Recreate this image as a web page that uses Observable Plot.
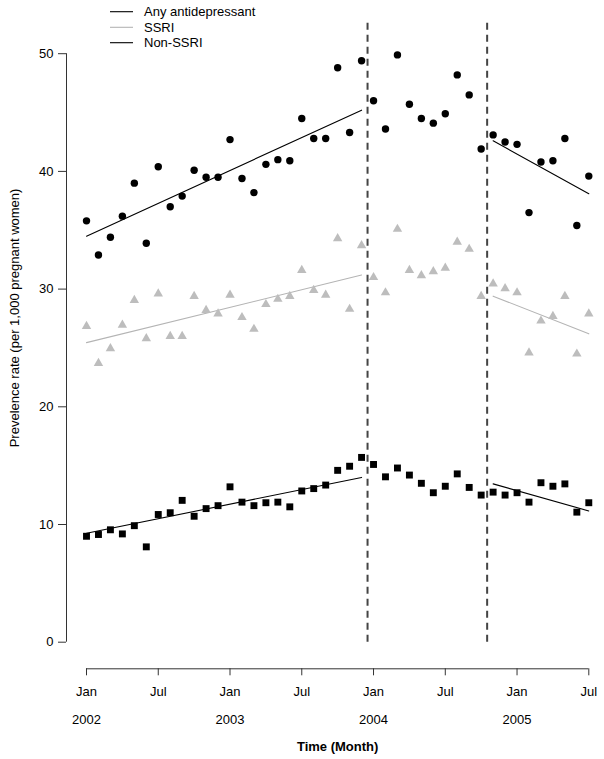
<!DOCTYPE html>
<html>
<head>
<meta charset="utf-8">
<script src="https://cdn.jsdelivr.net/npm/d3@7"></script>
<script src="https://cdn.jsdelivr.net/npm/@observablehq/plot@0.6"></script>
<style>
  html, body { margin: 0; padding: 0; background: white; }
  #wrap { position: relative; width: 604px; height: 759px; font-family: "Liberation Sans", Arial, sans-serif; }
  #legend { position: absolute; left: 0; top: 0; }
</style>
</head>
<body>
<div id="wrap"></div>
<script>
// Month index 0 = Jan 2002 ... 42 = Jul 2005
const anyAD = [35.8, 32.9, 34.4, 36.2, 39.0, 33.9, 40.4, 37.0, 37.9, 40.1,
               39.5, 39.5, 42.7, 39.4, 38.2, 40.6, 41.0, 40.9, 44.5, 42.8,
               42.8, 48.8, 43.3, 49.4, 46.0, 43.6, 49.9, 45.7, 44.5, 44.1,
               44.9, 48.2, 46.5, 41.9, 43.1, 42.5, 42.3, 36.5, 40.8, 40.9,
               42.8, 35.4, 39.6];
const ssri = [26.85, 23.7, 24.95, 26.95, 29.05, 25.8, 29.6, 26.0, 26.0, 29.4,
              28.2, 27.9, 29.5, 27.6, 26.6, 28.7, 29.15, 29.4, 31.6, 29.9,
              29.5, 34.3, 28.3, 33.7, 31.0, 29.7, 35.1, 31.6, 31.15, 31.5,
              31.8, 34.0, 33.4, 29.4, 30.45, 30.05, 29.7, 24.6, 27.3, 27.7,
              29.4, 24.5, 27.9];
const nonSSRI = [9.0, 9.15, 9.55, 9.2, 9.9, 8.1, 10.85, 11.0, 12.05, 10.7,
                 11.35, 11.6, 13.2, 11.9, 11.6, 11.85, 11.9, 11.5, 12.85, 13.05,
                 13.35, 14.6, 14.95, 15.7, 15.1, 14.05, 14.8, 14.2, 13.5, 12.7,
                 13.25, 14.3, 13.15, 12.5, 12.75, 12.5, 12.7, 11.9, 13.55, 13.25,
                 13.45, 11.05, 11.85];

// Fitted trend segments: [start month, end month] and [start value, end value]
const trendSegments = [[0, 23], [34, 42]];
const anyTrend = [[34.5, 45.2], [42.6, 38.1]];
const ssriTrend = [[25.45, 31.2], [29.4, 26.2]];
const nonTrend = [[9.25, 14.0], [13.45, 11.15]];

// Intervention dates (month index)
const interventions = [23.5, 33.5];

// Axis ticks and labels
const xTicks = [0, 6, 12, 18, 24, 30, 36, 42];
const xTickLabels = ["Jan", "Jul", "Jan", "Jul", "Jan", "Jul", "Jan", "Jul"];
const yearTicks = [0, 12, 24, 36];
const yearLabels = ["2002", "2003", "2004", "2005"];
const yTicks = [0, 10, 20, 30, 40, 50];

const seriesNames = ["Any antidepressant", "SSRI", "Non-SSRI"];

// Build tables
const toRows = (arr, name) => arr.map((v, i) => ({month: i, value: v, series: name}));
const anyRows = toRows(anyAD, "Any antidepressant");
const ssriRows = toRows(ssri, "SSRI");
const nonRows = toRows(nonSSRI, "Non-SSRI");

const trendRows = [];
[[anyTrend, "Any antidepressant"], [ssriTrend, "SSRI"], [nonTrend, "Non-SSRI"]].forEach(([t, name]) => {
  t.forEach((vals, s) => {
    trendRows.push({month: trendSegments[s][0], value: vals[0], series: name, key: name + s});
    trendRows.push({month: trendSegments[s][1], value: vals[1], series: name, key: name + s});
  });
});

const lineColor = {"Any antidepressant": "#000", "SSRI": "#b4b4b4", "Non-SSRI": "#000"};
const yearRows = yearTicks.map((m, i) => ({month: m, label: yearLabels[i]}));

const chart = Plot.plot({
  width: 604,
  height: 759,
  marginLeft: 86,
  marginRight: 15.7,
  marginTop: 53.2,
  marginBottom: 117.3,
  x: {domain: [0, 42]},
  y: {domain: [0, 50]},
  style: {fontFamily: "'Liberation Sans', Arial, sans-serif", fontSize: "13px", color: "#000", background: "white"},
  marks: [
    Plot.ruleX(interventions, {x: d => d, y1: 0, y2: 53, stroke: "#444", strokeWidth: 2, strokeDasharray: "7,5"}),
    Plot.line(trendRows, {x: "month", y: "value", z: "key", stroke: d => lineColor[d.series], strokeWidth: 1.1}),
    Plot.dot(ssriRows, {x: "month", y: "value", symbol: "triangle", r: 3.5, fill: "#bdbdbd", stroke: "none"}),
    Plot.dot(anyRows, {x: "month", y: "value", symbol: "circle", r: 3.7, fill: "#000", stroke: "none"}),
    Plot.dot(nonRows, {x: "month", y: "value", symbol: "square", r: 3.9, fill: "#000", stroke: "none"}),
    // y axis (offset left, R style)
    Plot.ruleX([0], {y1: 0, y2: 50, dx: -20, stroke: "#333"}),
    Plot.axisY({ticks: yTicks, tickSize: 8, tickPadding: 5, dx: -20, label: null, stroke: "#333", fontSize: 13}),
    // x axis (offset below)
    Plot.ruleY([0], {x1: 0, x2: 42, dy: 26.6, stroke: "#333"}),
    Plot.axisX({ticks: xTicks, tickFormat: d => xTickLabels[xTicks.indexOf(d)], tickSize: 7, tickPadding: 11, dy: 26.6, label: null, stroke: "#333", fontSize: 13}),
    Plot.text(yearRows, {x: "month", y: 0, text: "label", dy: 77.3, fontSize: 13, fill: "#000"}),
    Plot.text(["Time (Month)"], {x: 21, y: 0, text: d => d, dy: 104.3, fontSize: 13, fontWeight: "bold", fill: "#000"}),
    Plot.text(["Prevelence rate (per 1,000 pregnant women)"], {frameAnchor: "left", textAnchor: "middle", text: d => d, rotate: -90, dx: -72, dy: -30, fontSize: 13, fill: "#000"})
  ]
});

const wrap = document.getElementById("wrap");
wrap.appendChild(chart);

// Legend overlay (top-left)
const legend = d3.create("svg")
  .attr("id", "legend")
  .attr("width", 300)
  .attr("height", 52)
  .style("position", "absolute").style("left", "0px").style("top", "0px");
const rowsY = [11.7, 27.3, 42.7];
seriesNames.forEach((name, i) => {
  legend.append("line").attr("x1", 110).attr("x2", 133).attr("y1", rowsY[i]).attr("y2", rowsY[i])
    .attr("stroke", lineColor[name]).attr("stroke-width", 1.1);
  legend.append("text").attr("x", 144).attr("y", rowsY[i] + 4.6).text(name)
    .attr("font-family", "'Liberation Sans', Arial, sans-serif").attr("font-size", 13).attr("fill", "#000");
});
wrap.appendChild(legend.node());
</script>
</body>
</html>
